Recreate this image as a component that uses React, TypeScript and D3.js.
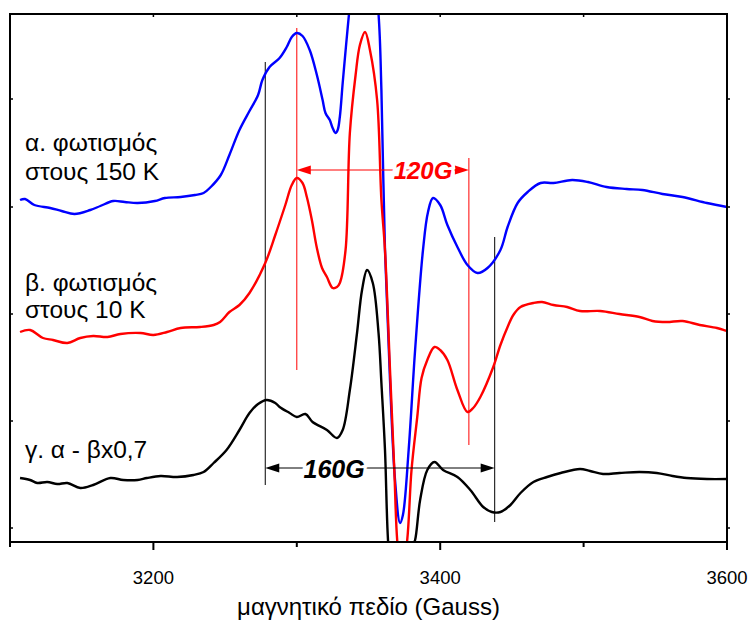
import React from 'react';
import * as d3 from 'd3';

// field in Gauss, signal in arbitrary units (derivative EPR spectra)
const alphaField = [3107, 3110.5, 3117, 3128, 3136, 3145, 3156, 3163, 3172, 3180, 3189, 3201, 3208, 3219, 3229, 3235, 3240, 3247, 3253, 3260, 3267, 3273, 3276, 3281, 3288, 3293, 3296.5, 3300, 3304, 3309, 3314, 3318, 3320, 3323, 3325, 3327, 3328.5, 3330, 3332, 3334.5, 3336.4, 3341, 3345.5, 3351, 3357, 3359, 3361.5, 3365, 3368.5, 3372, 3374, 3378, 3382.5, 3388, 3391.5, 3395, 3400, 3405, 3412, 3419, 3426, 3433, 3442, 3447, 3454, 3461, 3470, 3479, 3492, 3503, 3516, 3530, 3541, 3555, 3569, 3586, 3600];
const alphaSignal = [328, 329, 323, 320, 317, 314, 318, 322, 327, 326, 325, 327, 330, 331, 333, 335, 341, 353, 373, 398, 417, 433, 448, 461, 470, 481, 491, 495, 492, 478, 453, 428, 415, 408, 400, 395, 398, 411, 445, 485, 514, 588, 628, 598, 514, 438, 278, 148, 48, 5, 13, 78, 178, 278, 316, 330, 323, 303, 281, 263, 255, 260, 278, 301, 325, 336, 345, 345, 348, 346, 341, 339, 338, 334, 331, 325, 321];

const betaField = [3107, 3114, 3123, 3130, 3140, 3149, 3158, 3168, 3177, 3191, 3200, 3209.5, 3219, 3232.5, 3242, 3246.5, 3253, 3260, 3267, 3278, 3285, 3292, 3296.5, 3300, 3304, 3307, 3310.5, 3314, 3317.6, 3321, 3325, 3328, 3330, 3334, 3337, 3341, 3344, 3347.6, 3351, 3356, 3359, 3361.5, 3365, 3368, 3370, 3373, 3377, 3380, 3384, 3387, 3391, 3396, 3400, 3405, 3412, 3419, 3423, 3428, 3437, 3442, 3447, 3451, 3456, 3465, 3471, 3479, 3488.5, 3497.5, 3511.5, 3525, 3539, 3548, 3558, 3569, 3581, 3593, 3600];
const betaSignal = [196, 198, 190, 188, 185, 190, 192, 191, 194, 195, 193, 196, 200, 201, 203, 206, 216, 223, 235, 265, 293, 323, 343, 350, 345, 331, 308, 280, 260, 251, 240, 241, 245, 278, 395, 453, 483, 496, 478, 428, 328, 278, 158, 58, -12, -52, -12, 58, 111, 150, 168, 181, 178, 168, 138, 116, 120, 131, 161, 183, 201, 213, 221, 225, 226, 223, 221, 217, 217, 214, 211, 207, 206, 207, 203, 200, 197];

const gammaField = [3107, 3114, 3119, 3126, 3133, 3140, 3149, 3158, 3170, 3179, 3189, 3195.5, 3205, 3216.5, 3228, 3235, 3242, 3251, 3260, 3267, 3273, 3279, 3285, 3288, 3295, 3300, 3306, 3311, 3321, 3328, 3332, 3337, 3342, 3345.5, 3349, 3353, 3357, 3359, 3361.5, 3363.6, 3367, 3372, 3377.5, 3381, 3382.5, 3386, 3391, 3396, 3402, 3412, 3421, 3430, 3436, 3442, 3449, 3456, 3465, 3474.5, 3484, 3497.5, 3504.5, 3513.6, 3525, 3539, 3551, 3562, 3572, 3586, 3600];
const gammaSignal = [50, 48, 45, 46, 44, 45, 40, 43, 50, 48, 48, 50, 52, 51, 53, 56, 65, 78, 98, 115, 124, 128, 125, 121, 115, 111, 114, 106, 98, 90, 98, 138, 195, 238, 258, 245, 195, 145, 78, -12, -72, -92, -72, -17, -12, 28, 58, 66, 58, 51, 38, 21, 16, 16, 23, 35, 46, 51, 55, 59, 57, 54, 55, 56, 55, 52, 50, 49, 49];

const spectra = [
  { name: 'alpha', field: alphaField, signal: alphaSignal, color: '#0000ff' },
  { name: 'beta', field: betaField, signal: betaSignal, color: '#ff0000' },
  { name: 'gamma', field: gammaField, signal: gammaSignal, color: '#000000' },
];

const xTicks = [3100, 3200, 3300, 3400, 3500, 3600];
const xTickLabels = ['', '3200', '', '3400', '', '3600'];
const yTicks = [0, 107, 214, 321, 429];

// peak-to-peak markers
const widthRed = [3300, 3420];
const widthBlack = [3278, 3438];

const W = 751;
const H = 622;
const left = 10, right = 727, top = 14, bottom = 542;
const font = 'Arial, "Liberation Sans", sans-serif';

export default function App() {
  const x = d3.scaleLinear().domain([3100, 3600]).range([left, right]);
  const y = d3.scaleLinear().domain([-14, 514]).range([bottom, top]);

  const pathFor = (f: number[], s: number[]) =>
    d3.line<number>()
      .x((d) => x(d))
      .y((_, i) => y(s[i]))
      .curve(d3.curveCatmullRom.alpha(0.5))(f) || '';

  const arrow = (x1: number, x2: number, yy: number, color: string) => {
    const len = 14, hw = 4.5;
    const a = x(x1), b = x(x2), yp = y(yy);
    return (
      <g>
        <line x1={a + len - 1} x2={b - len + 1} y1={yp} y2={yp} stroke={color} strokeWidth={1} />
        <polygon points={`${a},${yp} ${a + len},${yp - hw} ${a + len},${yp + hw}`} fill={color} />
        <polygon points={`${b},${yp} ${b - len},${yp - hw} ${b - len},${yp + hw}`} fill={color} />
      </g>
    );
  };

  return (
    <svg width={W} height={H} style={{ position: 'absolute', left: 0, top: 0, background: '#fff' }}>
      <defs>
        <clipPath id="plot">
          <rect x={left} y={top} width={right - left} height={bottom - top} />
        </clipPath>
      </defs>

      {/* marker lines */}
      <line x1={x(widthBlack[0])} x2={x(widthBlack[0])} y1={y(466)} y2={y(43)} stroke="#000" strokeWidth={1} />
      <line x1={x(widthBlack[1])} x2={x(widthBlack[1])} y1={y(291)} y2={y(6)} stroke="#000" strokeWidth={1} />
      <line x1={x(widthRed[0])} x2={x(widthRed[0])} y1={y(500)} y2={y(158)} stroke="#ff0000" strokeWidth={1} />
      <line x1={x(widthRed[1])} x2={x(widthRed[1])} y1={y(370)} y2={y(83)} stroke="#ff0000" strokeWidth={1} />

      <g clipPath="url(#plot)">
        {spectra.map((s) => (
          <path key={s.name} d={pathFor(s.field, s.signal)} fill="none" stroke={s.color}
            strokeWidth={2.4} strokeLinejoin="round" />
        ))}
      </g>

      {arrow(widthRed[0], widthRed[1], 358, '#ff0000')}
      {arrow(widthBlack[0], widthBlack[1], 60, '#000')}

      <text x={x(3388)} y={y(358) + 9} textAnchor="middle" fontFamily={font} fontSize={24}
        fontWeight="bold" fontStyle="italic" fill="#ff0000" stroke="#fff" strokeWidth={6}
        style={{ paintOrder: 'stroke' }}>
        {`${widthRed[1] - widthRed[0]}G`}
      </text>
      <text x={x(3326)} y={y(60) + 10} textAnchor="middle" fontFamily={font} fontSize={25}
        fontWeight="bold" fontStyle="italic" fill="#000" stroke="#fff" strokeWidth={6}
        style={{ paintOrder: 'stroke' }}>
        {`${widthBlack[1] - widthBlack[0]}G`}
      </text>

      {/* frame */}
      <rect x={left} y={top} width={right - left} height={bottom - top} fill="none" stroke="#000" strokeWidth={2} />

      {xTicks.map((t, i) => (
        <g key={t}>
          <line x1={x(t)} x2={x(t)} y1={bottom} y2={bottom + (xTickLabels[i] ? 8 : 5)} stroke="#000" strokeWidth={2} />
          <line x1={x(t)} x2={x(t)} y1={top} y2={top + 3} stroke="#000" strokeWidth={1.5} />
          {xTickLabels[i] && (
            <text x={x(t)} y={584} textAnchor="middle" fontFamily={font} fontSize={18.5} fill="#000">
              {xTickLabels[i]}
            </text>
          )}
        </g>
      ))}
      {yTicks.map((t) => (
        <g key={t}>
          <line x1={left} x2={left + 3} y1={y(t)} y2={y(t)} stroke="#000" strokeWidth={1.5} />
          <line x1={right} x2={right + 3} y1={y(t)} y2={y(t)} stroke="#000" strokeWidth={1.5} />
        </g>
      ))}

      <text x={(left + right) / 2} y={615} textAnchor="middle" fontFamily={font} fontSize={24} fill="#000">
        μαγνητικό πεδίο (Gauss)
      </text>

      <g fontFamily={font} fontSize={24.5} fill="#000">
        <text x={25} y={151}>α. φωτισμός</text>
        <text x={25} y={180}>στους 150 K</text>
        <text x={25} y={291}>β. φωτισμός</text>
        <text x={25} y={318}>στους 10 K</text>
        <text x={25} y={458}>γ. α - βx0,7</text>
      </g>
    </svg>
  );
}
